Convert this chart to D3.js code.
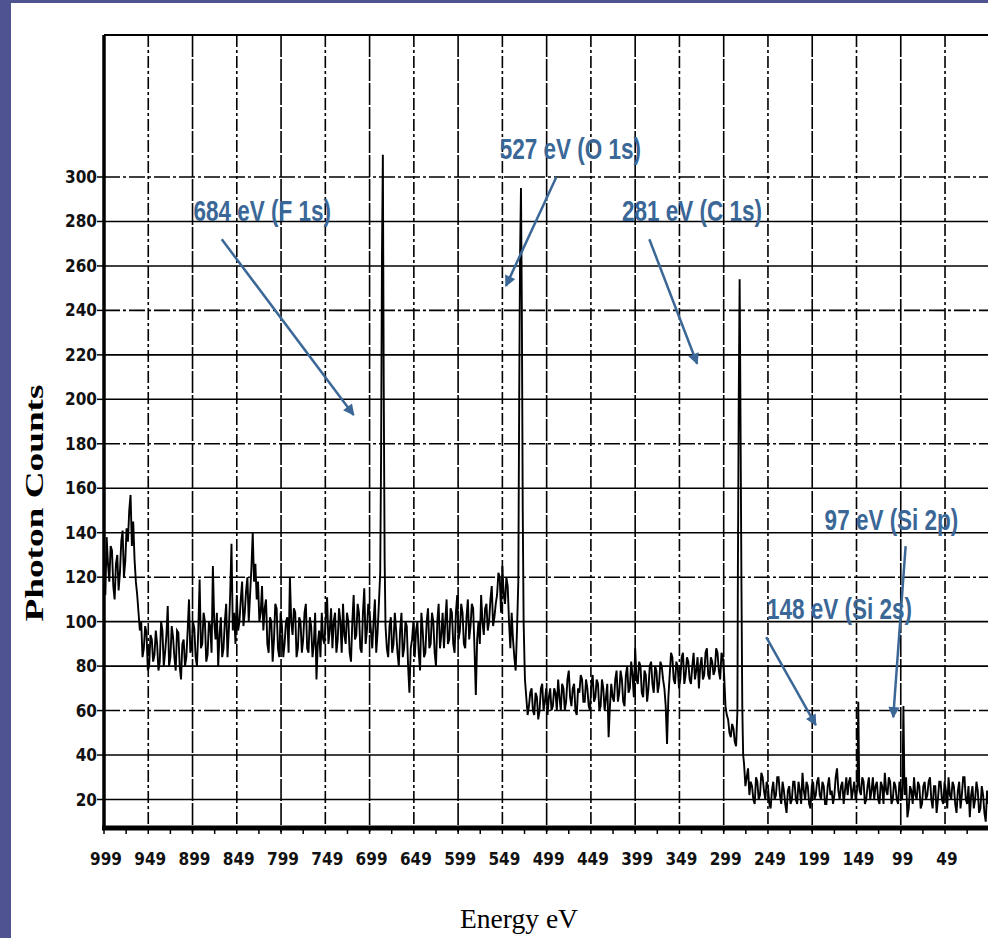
<!DOCTYPE html>
<html>
<head>
<meta charset="utf-8">
<script src="https://cdn.jsdelivr.net/npm/d3@7"></script>
<style>
  body { margin: 0; background: #fff; }
  svg { display: block; }
  .grid line { stroke: #000; stroke-width: 1.6px; }
  .tick-label { font-family: "DejaVu Sans Condensed", "Liberation Sans Narrow", sans-serif; font-weight: bold; font-size: 17px; fill: #111; }
  .note { font-family: "Liberation Sans", Arial, sans-serif; font-size: 30px; font-weight: bold; fill: #3b6797; }
</style>
</head>
<body>
<script>
// spectrum: 999 eV down to 0 eV, one value every 3 eV
var energyStart = 999, energyStep = 3;
var counts = [
  128,138,118,132,110,130,122,141,127,136,   // 999..972
  157,145,118,104,100,88,95,80,92,85,        // 969..942
  90,82,96,86,107,84,93,78,95,74,            // 939..912
  92,84,110,88,97,80,119,90,100,85,          // 909..882
  98,125,92,80,102,88,108,96,135,104,        // 879..852
  112,100,118,104,120,112,140,126,118,104,   // 849..822
  96,110,86,100,92,106,84,98,90,102,         // 819..792
  120,94,104,88,100,92,108,86,98,90,         // 789..762
  74,96,104,90,111,96,88,104,92,100,         // 759..732
  108,90,100,82,112,94,104,86,115,96,        // 729..702
  104,88,110,95,122,310,98,84,102,90,        // 699..672
  96,80,104,88,98,68,92,84,100,78,           // 669..642
  96,86,106,90,100,80,108,94,88,110,         // 639..612
  92,104,86,112,96,104,88,110,98,106,        // 609..582
  67,100,112,94,108,100,116,102,112,120,     // 579..552
  125,108,116,88,92,78,118,295,100,66,       // 549..522
  62,70,58,66,60,72,64,58,70,62,             // 519..492
  68,74,60,70,64,78,62,72,58,68,             // 489..462
  74,64,70,60,76,66,72,62,70,66,             // 459..432
  48,72,64,78,68,74,62,80,70,76,             // 429..402
  88,72,80,66,76,70,82,68,78,72,             // 399..372
  80,70,45,76,84,72,80,74,86,76,             // 369..342
  82,72,86,78,70,84,76,88,74,82,             // 339..312
  78,86,74,84,62,56,48,52,44,200,            // 309..282
  120,36,30,22,26,18,28,22,30,20,            // 279..252
  26,16,28,22,30,18,24,14,26,20,             // 249..222
  28,18,24,32,20,26,16,28,22,30,             // 219..192
  20,26,18,30,24,22,34,20,28,24,             // 189..162
  22,30,24,20,64,22,28,20,30,24,             // 159..132
  20,28,18,26,32,22,28,20,26,18,             // 129..102
  24,62,30,16,24,30,20,26,18,28,             // 99..72
  22,30,16,26,20,28,18,24,30,20,             // 69..42
  26,14,28,22,30,18,12,26,20,24,             // 39..12
  16,22,10,18                                // 9..0
];
// in-between readings, 1.5 eV after each value above (997.5 .. 1.5)
var countsMid = [
  112,126,134,116,126,114,136,120,142,150,
  134,128,112,96,84,98,78,94,82,96,
  78,100,80,94,80,98,84,96,80,90,
  80,96,86,100,84,96,88,104,82,100,
  86,100,104,94,84,100,84,112,96,90,
  96,110,98,114,100,124,118,110,100,116,
  106,90,102,82,108,88,104,84,100,86,
  100,106,84,102,86,104,88,102,84,104,
  90,84,92,102,90,106,100,86,106,86,
  94,104,86,100,92,108,88,104,90,108,
  96,100,86,108,220,165,88,98,86,104,
  86,96,84,100,80,88,100,96,86,104,
  84,100,88,104,86,100,88,104,100,90,
  106,90,104,92,108,90,102,92,108,88,
  92,90,100,106,96,110,98,108,122,104,
  112,120,100,104,84,96,235,195,74,58,
  68,60,68,56,70,60,70,66,60,70,
  60,66,72,60,74,66,70,60,70,76,
  64,74,62,72,64,74,60,74,60,72,
  62,66,74,64,78,64,76,68,82,66,
  74,82,68,78,64,80,72,80,68,82,
  74,62,66,86,74,82,70,84,72,84,
  74,80,74,84,80,74,86,76,84,76,
  88,78,86,76,58,50,54,46,60,225,
  50,26,34,28,20,30,20,32,24,28,
  18,24,20,30,22,28,18,24,18,28,
  20,28,18,24,28,18,26,20,28,22,
  28,18,26,22,18,30,24,26,18,30,
  28,20,28,24,24,30,18,26,20,30,
  26,20,28,18,24,30,18,28,20,28,
  20,22,12,26,18,22,28,16,26,20,
  28,20,26,14,28,20,28,16,22,28,
  18,24,16,30,20,26,22,16,28,14,
  26,14,24
];
// extra 1 eV points on the sharp peaks [eV, counts]
var peakPoints = [
  [686,175],[685,265],[683,205],[682,128],
  [530,200],[529,265],[527,240],[526,150],[524,82],
  [283,120],[281,254],[280,190],[278,62],[277,40],
  [148,26],[146,28],
  [97,26],[95,30]
];
var yTicks = [20,40,60,80,100,120,140,160,180,200,220,240,260,280,300];
var xTicks = [999,949,899,849,799,749,699,649,599,549,499,449,399,349,299,249,199,149,99,49];
var xTickLabels = ["999","949","899","849","799","749","699","649","599","549","499","449","399","349","299","249","199","149","99","49"];

// annotations: label, label anchor [eV, counts], arrow start, arrow end
var noteText = ["684 eV (F 1s)", "527 eV (O 1s)", "281 eV (C 1s)", "97 eV (Si 2p)", "148 eV (Si 2s)"];
var noteAt   = [[898,280], [552,308], [414,280], [185,141], [250,101]];
var arrowFrom = [[866,272], [488,300], [383,272], [93.5,134], [251,93]];
var arrowTo   = [[717,193], [545,251], [329,216], [107.5,57], [195,53.5]];

var W = 988, H = 938;
var svg = d3.select("body").append("svg").attr("width", W).attr("height", H);

var defs = svg.append("defs");
defs.append("marker").attr("id", "head")
  .attr("viewBox", "0 0 10 10").attr("refX", 9).attr("refY", 5)
  .attr("markerWidth", 5).attr("markerHeight", 4.5).attr("orient", "auto")
  .attr("markerUnits", "strokeWidth")
  .append("path").attr("d", "M0,0 L10,5 L0,10 Z").attr("fill", "#3b6797");

// slide background edges
svg.append("rect").attr("width", W).attr("height", H).attr("fill", "#4f5390");
svg.append("rect").attr("x", 11).attr("y", 3).attr("width", W - 11).attr("height", H - 3).attr("fill", "#fff");

var x = d3.scaleLinear().domain([999, 0]).range([104, 988.4]);
var y = d3.scaleLinear().domain([20, 300]).range([799.5, 177]);
var plotTop = 35, plotBottom = 828, plotLeft = 104, plotRight = W;

// grid
var grid = svg.append("g").attr("class", "grid");
grid.selectAll(".h").data(yTicks).enter().append("line")
  .attr("x1", plotLeft).attr("x2", plotRight)
  .attr("y1", function(d){ return y(d); }).attr("y2", function(d){ return y(d); })
  .attr("stroke-dasharray", function(d, i){ return i % 3 == 2 ? "16,3,3,3" : null; });
grid.selectAll(".v").data(xTicks.slice(1)).enter().append("line")
  .attr("y1", plotTop).attr("y2", plotBottom + 4)
  .attr("x1", function(d){ return x(d); }).attr("x2", function(d){ return x(d); })
  .attr("stroke-dasharray", function(d, i){ return i % 2 == 0 ? "12,3,3,3" : "22,2"; });

// frame
svg.append("line").attr("x1", plotLeft).attr("x2", plotRight).attr("y1", plotTop).attr("y2", plotTop)
  .attr("stroke", "#000").attr("stroke-width", 2);
svg.append("line").attr("x1", plotLeft).attr("x2", plotLeft).attr("y1", plotTop).attr("y2", plotBottom)
  .attr("stroke", "#000").attr("stroke-width", 3.5);

// y axis ticks + labels
var yAxis = svg.append("g");
yAxis.selectAll("line").data(yTicks).enter().append("line")
  .attr("x1", plotLeft - 7).attr("x2", plotLeft)
  .attr("y1", function(d){ return y(d); }).attr("y2", function(d){ return y(d); })
  .attr("stroke", "#000").attr("stroke-width", 1.5);
yAxis.selectAll("text").data(yTicks).enter().append("text")
  .attr("class", "tick-label")
  .attr("x", plotLeft - 7).attr("y", function(d){ return y(d) + 6; })
  .attr("text-anchor", "end")
  .text(function(d){ return d; });

// spectrum: merge the 3 eV readings, the in-between readings and the peak points
var pts = counts.map(function(c, i){ return [energyStart - i * energyStep, c]; });
countsMid.forEach(function(c, i){ pts.push([energyStart - i * energyStep - energyStep / 2, c]); });
var byEnergy = {};
pts.forEach(function(p, i){ byEnergy[p[0]] = i; });
peakPoints.forEach(function(p){
  if (byEnergy[p[0]] !== undefined) pts[byEnergy[p[0]]][1] = p[1];
  else pts.push([p[0], p[1]]);
});
pts.sort(function(a, b){ return b[0] - a[0]; });

var line = d3.line().x(function(d){ return x(d[0]); }).y(function(d){ return y(d[1]); });
svg.append("path").datum(pts).attr("d", line)
  .attr("fill", "none").attr("stroke", "#000").attr("stroke-width", 1.9)
  .attr("stroke-linejoin", "miter");

// bottom axis
svg.append("line").attr("x1", plotLeft - 2).attr("x2", plotRight).attr("y1", plotBottom).attr("y2", plotBottom)
  .attr("stroke", "#000").attr("stroke-width", 5);
var minor = d3.range(0, xTicks.length * 2).map(function(i){ return 999 - i * 25; }).filter(function(d){ return d > 0; });
svg.append("g").selectAll("line").data(minor).enter().append("line")
  .attr("x1", function(d){ return x(d); }).attr("x2", function(d){ return x(d); })
  .attr("y1", plotBottom).attr("y2", plotBottom + 6)
  .attr("stroke", "#000").attr("stroke-width", 1.5);
svg.append("g").selectAll("text").data(xTicks).enter().append("text")
  .attr("class", "tick-label")
  .attr("x", function(d){ return x(d) + 2; }).attr("y", 865)
  .attr("text-anchor", "middle")
  .text(function(d, i){ return xTickLabels[i]; });

// axis titles
svg.append("text")
  .attr("transform", "translate(43,503) rotate(-90)")
  .attr("text-anchor", "middle")
  .attr("textLength", 237).attr("lengthAdjust", "spacingAndGlyphs")
  .style("font-family", "'Liberation Serif', 'Times New Roman', serif")
  .style("font-size", "26px").style("font-weight", "bold")
  .text("Photon Counts");
svg.append("text")
  .attr("x", 519).attr("y", 928)
  .attr("text-anchor", "middle")
  .attr("textLength", 118).attr("lengthAdjust", "spacingAndGlyphs")
  .style("font-family", "'Liberation Serif', 'Times New Roman', serif")
  .style("font-size", "28px")
  .text("Energy eV");

// annotations
var notes = svg.append("g");
noteText.forEach(function(t, i){
  notes.append("line")
    .attr("x1", x(arrowFrom[i][0])).attr("y1", y(arrowFrom[i][1]))
    .attr("x2", x(arrowTo[i][0])).attr("y2", y(arrowTo[i][1]))
    .attr("stroke", "#3b6797").attr("stroke-width", 2.5)
    .attr("marker-end", "url(#head)");
  notes.append("text").attr("class", "note")
    .attr("transform", "translate(" + x(noteAt[i][0]) + "," + y(noteAt[i][1]) + ") scale(0.75,1)")
    .text(t);
});
</script>
</body>
</html>
